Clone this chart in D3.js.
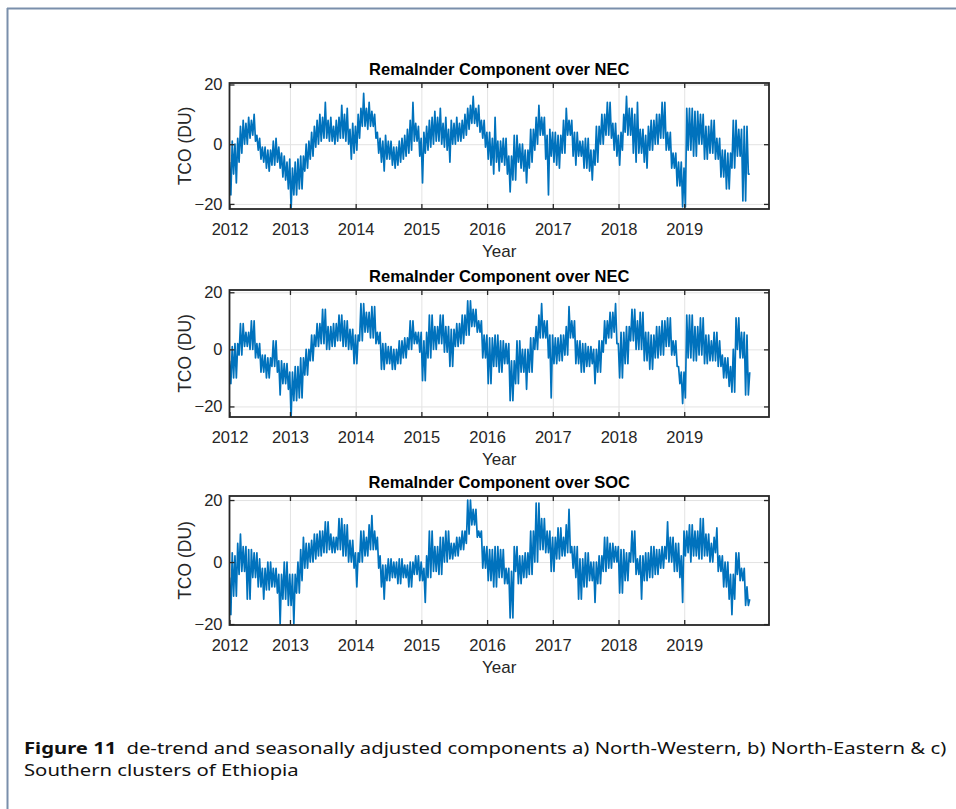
<!DOCTYPE html>
<html>
<head>
<meta charset="utf-8">
<script src="https://cdn.jsdelivr.net/npm/d3@7"></script>
<style>
  body { margin: 0; background: #fff; }
  svg { display: block; }
</style>
</head>
<body>
<div id="chart"></div>
<script>
// time axis: first sample sits just after the "2012" label, then weekly-ish steps
const startYear = 2012.08;
const stepYear = 1 / 48;
const endYear = 2020.29;

const yearTicks = [2012.08, 2013, 2014, 2015, 2016, 2017, 2018, 2019];
const yearLabels = ["2012", "2013", "2014", "2015", "2016", "2017", "2018", "2019"];
const yTicks = [-20, 0, 20];

const titles = [
    "RemaInder Component over NEC",
    "RemaInder Component over NEC",
    "RemaInder Component over SOC"
];
const yLimits = [[-21.7, 20.5], [-23.7, 20.8], [-20.3, 21.3]];

// remainder values (DU), upper and lower edge of the noisy band in turn
const northWestValues = [
    -6, -17, 1, -10, 0, -13, 2, -6, 6, -3, 8, 0, 7, 0, 9, 2, 8, 3, 10, 1, 3, -2, 2, -5,
    -1, -6, -1, -8, -2, -9, -2, -7, 1, -7, 2, -6, -1, -8, -3, -11, -4, -12, -6, -15, -5, -22, -8, -17,
    -6, -17, -5, -15, -4, -15, -4, -9, 0, -8, 1, -5, 4, -4, 6, -1, 8, 0, 10, 1, 9, 2, 14, 2,
    8, 1, 9, 1, 6, 0, 8, 1, 9, 2, 13, 2, 10, 1, 12, 0, 5, -5, 7, -3, 6, -2, 10, 2,
    12, 6, 17, 6, 12, 5, 14, 6, 11, 6, 10, 2, 4, -3, 2, -6, 1, -9, 3, -5, 1, -5, 1, -7,
    -1, -8, -1, -7, 1, -6, 2, -5, 3, -4, 5, -3, 8, -2, 14, 1, 7, 1, 6, -4, 2, -13, 4, -3,
    6, -2, 8, -1, 9, 0, 11, 1, 9, 1, 12, 0, 7, -1, 9, -2, 5, -6, 8, 0, 7, 0, 9, 1,
    7, 1, 8, 2, 10, 3, 12, 5, 13, 7, 16, 7, 12, 6, 13, 4, 8, 2, 8, -1, 4, -5, 4, -7,
    2, -10, 9, -6, 1, -9, 1, -6, 2, -7, 2, -10, -4, -16, -4, -12, 3, -12, 3, -6, 0, -8, 0, -9,
    -2, -13, -2, -8, 5, -6, 5, -2, 9, 0, 13, 3, 9, 3, 9, -5, 3, -17, 5, -4, 4, -6, 4, -7,
    3, -8, 3, -3, 8, -3, 12, 3, 8, 3, 8, -4, 4, -7, 4, -4, 1, -4, 1, -8, 2, -8, 2, -9,
    -2, -12, -2, -7, 6, -6, 6, 0, 10, 0, 10, 3, 14, 3, 14, 2, 7, -2, 7, -4, 3, -7, 4, -2,
    10, 4, 16, 3, 12, 3, 12, -3, 10, -6, 14, -3, 5, -3, 5, -6, 3, -8, 6, -2, 8, -2, 8, 0,
    10, 0, 10, 2, 14, 2, 14, -2, 4, -2, 4, -8, -3, -8, -3, -14, -6, -14, -6, -21, -8, -21, 12, -2,
    12, -2, 12, -4, 11, -4, 11, 0, 10, 0, 10, -5, 6, -5, 6, -3, 8, -3, 8, -5, 2, -5, 2, -11,
    -2, -11, -2, -15, -3, -15, -3, -8, 8, -8, 8, -4, 5, -4, 5, -19, 6, -19, 6, -10, -10
];
const northEastValues = [
    -4, -12, 1, -10, 2, -10, 2, -2, 9, -2, 9, 1, 6, 1, 6, 0, 10, 0, 10, -3, 2, -3, 2, -8,
    -2, -8, -2, -10, -3, -10, -3, -6, 3, -6, 3, -8, -4, -16, -4, -12, -5, -12, -5, -14, -8, -24, -8, -18,
    -6, -18, -6, -17, -3, -17, -3, -9, 0, -9, 0, -4, 5, -4, 5, 1, 9, 1, 9, 2, 14, 2, 14, 0,
    8, 0, 8, 1, 9, 1, 9, 3, 12, 3, 12, 1, 10, 1, 10, 0, 7, 0, 7, -5, 5, -5, 5, 3,
    16, 3, 16, 6, 13, 6, 13, 4, 15, 4, 15, 2, 6, 2, 6, -7, 2, -7, 2, -5, 1, -5, 1, -7,
    0, -7, 0, -5, 3, -5, 3, -3, 4, -3, 4, 0, 10, 0, 10, 2, 6, 2, 6, -1, 6, -11, 3, -11,
    6, -3, 12, -3, 12, 0, 8, 0, 8, 2, 12, 2, 12, -1, 8, -1, 8, -6, 7, -6, 7, 1, 9, 1,
    9, 2, 12, 2, 12, 5, 17, 5, 17, 8, 14, 8, 14, 6, 10, 6, 10, -3, 5, -3, 5, -12, 4, -12,
    4, -6, 5, -6, 5, -8, 3, -8, 3, -5, 2, -5, 2, -18, -4, -18, -4, -12, 3, -12, 3, -8, 0, -8,
    0, -14, 0, -8, 4, -8, 4, 0, 8, 0, 12, 4, 16, 4, 10, 4, 10, -3, 5, -17, 5, -5, 4, -5,
    4, -4, 5, -4, 5, -2, 8, -2, 15, 4, 10, 4, 10, -5, 3, -5, 3, -8, 2, -8, 2, -6, 1, -6,
    1, -5, 0, -12, 0, -8, 3, -8, 3, -1, 10, 2, 10, 4, 13, 4, 13, 6, 16, 2, 2, -10, 6, -10,
    6, -5, 8, -5, 8, 3, 14, 3, 14, 0, 10, 0, 13, 0, 13, -4, 6, -4, 6, -7, 5, -7, 5, -3,
    8, -3, 8, -2, 10, -2, 10, 1, 11, 1, 11, -2, 3, -2, 3, -6, -6, -12, -8, -19, -8, -17, 12, -3,
    12, -3, 12, -4, 8, -4, 8, -2, 11, -2, 11, -5, 5, -5, 5, -4, 3, -4, 6, -4, 6, -6, 3, -6,
    -2, -10, -3, -10, -3, -13, -6, -15, 0, -15, 11, 0, 11, -3, 6, -3, 6, -16, 5, -16, -8
];
const southValues = [
    -5, -17, 3, -11, 2, -11, 6, -4, 9, -3, 5, -3, 5, -12, 4, -12, 4, -5, 3, -5, 3, -8, 1, -8,
    -2, -12, -2, -9, 0, -9, 0, -8, -2, -8, -2, -10, -4, -20, -4, -12, 0, -12, 0, -14, -4, -14, -4, -20,
    -4, -10, 0, -10, 4, -6, 8, -2, 6, -2, 6, 0, 7, 0, 9, 1, 9, 2, 10, 2, 10, 3, 13, 3,
    13, 4, 9, 3, 8, 3, 8, 4, 14, 4, 14, 2, 12, 2, 12, 0, 7, 0, 7, -2, 3, -8, 3, 0,
    10, 0, 10, 2, 8, 2, 12, 4, 15, 4, 10, 4, 8, -2, 2, -8, -1, -12, -1, -6, 1, -6, 1, -5,
    0, -5, 0, -7, 1, -7, 1, -5, -1, -5, -1, -8, 0, -8, 0, -4, 2, -4, 2, -6, 0, -6, -2, -13,
    2, -5, 10, -5, 10, -3, 5, -3, 5, -4, 8, -4, 8, 0, 10, 0, 10, 1, 6, 1, 6, 2, 8, 2,
    8, 4, 10, 4, 10, 6, 20, 9, 20, 12, 17, 12, 17, 8, 10, 8, 10, -2, 5, -2, 5, -6, 4, -6,
    4, -8, 5, -8, 5, -5, 4, -5, 4, -7, -2, -7, -2, -18, -3, -18, 5, -3, 5, -7, 2, -7, 2, -5,
    3, -5, 3, -4, 10, -4, 10, 0, 19, 0, 19, 4, 14, 4, 14, 3, 10, 3, 10, -3, 8, -3, 8, 1,
    11, 1, 11, 2, 8, 2, 12, 3, 17, 3, 5, -2, 5, -5, 5, -12, 1, -12, 1, -8, 3, -8, 3, -6,
    0, -6, 0, -13, 0, -7, 2, -7, 2, -3, 8, -3, 8, -2, 6, -2, 6, 0, 5, 0, 5, -10, 4, -10,
    4, -6, 3, -6, 3, 0, 10, 0, 10, -4, 1, -4, 2, -12, 2, -6, 3, -6, 3, -5, 5, -5, 5, -4,
    4, -4, 4, -2, 5, -2, 5, 1, 13, 0, 8, 0, 8, -3, 6, -3, 6, -5, 2, -13, 10, 2, 10, 3,
    12, 0, 12, 2, 10, 2, 10, 1, 14, 1, 14, 2, 9, 2, 9, 0, 6, 0, 8, 3, 11, -3, 2, -3,
    2, -8, 0, -8, 0, -12, -4, -17, -4, -12, 3, -4, 3, -6, -2, -6, -2, -14, -8, -14, -12
];

const seriesList = [northWestValues, northEastValues, southValues];

function renderPanel(svg, values, title, yLim, top, bottom, idx) {
    const left = 229.5;
    const right = 769;
    const gridColor = '#e3e3e3';
    const axisColor = '#262626';

    const xScale = d3.scaleLinear().domain([startYear, endYear]).range([left, right]);
    const yScale = d3.scaleLinear().domain(yLim).range([bottom, top]);

    const g = svg.append('g').attr('class', 'panel');

    // gridlines behind the data
    const grid = g.append('g').attr('class', 'grid');
    grid.append('g')
        .attr('transform', `translate(0, ${bottom})`)
        .call(d3.axisBottom(xScale).tickValues(yearTicks.slice(1)).tickFormat('').tickSize(-(bottom - top)))
        .call(a => a.select('.domain').remove());
    grid.append('g')
        .attr('transform', `translate(${left}, 0)`)
        .call(d3.axisLeft(yScale).tickValues(yTicks).tickFormat('').tickSize(-(right - left)))
        .call(a => a.select('.domain').remove());
    grid.selectAll('line').attr('stroke', gridColor).attr('stroke-width', 1);

    // clip the line to the axes box
    svg.append('clipPath')
        .attr('id', 'clip' + idx)
        .append('rect')
        .attr('x', left).attr('y', top)
        .attr('width', right - left).attr('height', bottom - top);

    const line = d3.line()
        .x((d, i) => xScale(startYear + i * stepYear))
        .y(d => yScale(d));

    g.append('path')
        .datum(values)
        .attr('clip-path', `url(#clip${idx})`)
        .attr('fill', 'none')
        .attr('stroke', '#0072BD')
        .attr('stroke-width', 1.7)
        .attr('stroke-linejoin', 'round')
        .attr('d', line);

    // axes with inward ticks, matlab style
    const axes = g.append('g').attr('class', 'axes');
    const xAxis = axes.append('g')
        .attr('transform', `translate(0, ${bottom})`)
        .call(d3.axisBottom(xScale).tickValues(yearTicks)
            .tickFormat((d, i) => yearLabels[i]).tickSizeInner(-5).tickSizeOuter(0).tickPadding(14));
    xAxis.selectAll('text').attr('font-size', '16.5px').attr('fill', axisColor);

    axes.append('g')
        .attr('transform', `translate(0, ${top})`)
        .call(d3.axisTop(xScale).tickValues(yearTicks.slice(1)).tickFormat('').tickSizeInner(-5).tickSizeOuter(0));

    const yAxis = axes.append('g')
        .attr('transform', `translate(${left}, 0)`)
        .call(d3.axisLeft(yScale).tickValues(yTicks).tickSizeInner(-5).tickSizeOuter(0).tickPadding(7));
    yAxis.selectAll('text').attr('font-size', '16.5px').attr('fill', axisColor);

    axes.append('g')
        .attr('transform', `translate(${right}, 0)`)
        .call(d3.axisRight(yScale).tickValues(yTicks).tickFormat('').tickSizeInner(-5).tickSizeOuter(0));

    axes.selectAll('.domain').remove();
    axes.selectAll('.tick line').attr('stroke', axisColor).attr('stroke-width', 1.3);

    g.append('rect')
        .attr('x', left).attr('y', top)
        .attr('width', right - left).attr('height', bottom - top)
        .attr('fill', 'none')
        .attr('stroke', axisColor)
        .attr('stroke-width', 1.8);

    // labels
    g.append('text')
        .attr('x', (left + right) / 2)
        .attr('y', top - 8)
        .attr('text-anchor', 'middle')
        .attr('font-weight', 'bold')
        .attr('font-size', '16.5px')
        .attr('fill', '#000')
        .text(title);

    g.append('text')
        .attr('x', (left + right) / 2)
        .attr('y', bottom + 48)
        .attr('text-anchor', 'middle')
        .attr('font-size', '17px')
        .attr('fill', axisColor)
        .text('Year');

    g.append('text')
        .attr('transform', `translate(191, ${(top + bottom) / 2}) rotate(-90)`)
        .attr('text-anchor', 'middle')
        .attr('font-size', '17.5px')
        .attr('fill', axisColor)
        .text('TCO (DU)');
}

const width = 956;
const height = 809;

const svg = d3.select('#chart')
    .append('svg')
    .attr('width', width)
    .attr('height', height)
    .attr('font-family', '"Liberation Sans", Arial, sans-serif');

// page frame
svg.append('line')
    .attr('x1', 7).attr('y1', 8.5).attr('x2', width).attr('y2', 8.5)
    .attr('stroke', '#7a8fab').attr('stroke-width', 2);
svg.append('line')
    .attr('x1', 7.5).attr('y1', 8).attr('x2', 7.5).attr('y2', height)
    .attr('stroke', '#7a8fab').attr('stroke-width', 2);

const panelBoxes = [[83, 209], [290, 417], [496, 625]];
seriesList.forEach((values, i) => {
    renderPanel(svg, values, titles[i], yLimits[i], panelBoxes[i][0], panelBoxes[i][1], i);
});

// caption, stretched to the page width like the typeset original
const caption = svg.append('g').attr('font-family', '"Noto Sans", "DejaVu Sans", sans-serif');
const line1 = caption.append('text')
    .attr('font-size', '15.5px')
    .attr('fill', '#111');
line1.append('tspan').attr('font-weight', 'bold').text('Figure 11');
line1.append('tspan').text('\u2002de-trend and seasonally adjusted components a) North-Western, b) North-Eastern & c)');
const natural = line1.node().getComputedTextLength();
const sx = 923 / natural;
line1.attr('transform', `translate(24, 754) scale(${sx}, 1)`);

caption.append('text')
    .attr('font-size', '15.5px')
    .attr('fill', '#111')
    .attr('transform', `translate(24, 776) scale(${sx}, 1)`)
    .text('Southern clusters of Ethiopia');
</script>
</body>
</html>
